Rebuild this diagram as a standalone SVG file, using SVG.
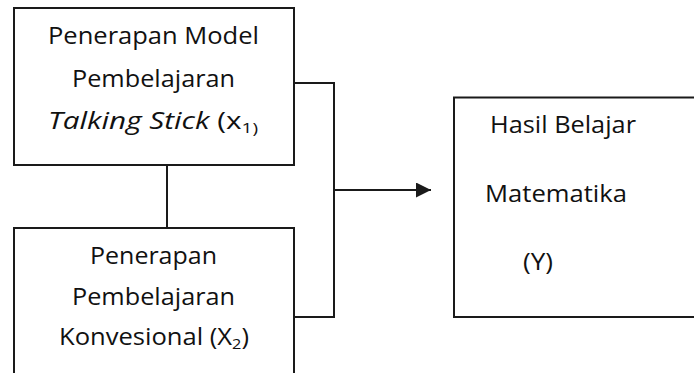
<svg xmlns="http://www.w3.org/2000/svg" width="694" height="373" viewBox="0 0 694 373">
  <style>
    .box { fill: #ffffff; stroke: #1a1a1a; stroke-width: 2; }
    .wire { fill: none; stroke: #1a1a1a; stroke-width: 2; }
    .lbl { font-family: "Open Sans", "Liberation Sans", sans-serif; font-size: 23.5px; fill: #111111; }
    .it { font-style: italic; }
    .sub { font-size: 15px; }
  </style>
  <defs>
    <marker id="arrowhead" markerWidth="15" markerHeight="15" viewBox="0 0 15 15" refX="15" refY="7.5" orient="auto" markerUnits="userSpaceOnUse">
      <path d="M0,0 L15,7.5 L0,15 Z" fill="#1a1a1a"/>
    </marker>
  </defs>

  <rect width="694" height="373" fill="#ffffff"/>

  <g id="connectors">
    <polyline class="wire" points="294,83 334,83 334,317 294,317"/>
    <line class="wire" x1="167" y1="165" x2="167" y2="228"/>
    <line class="wire" x1="334" y1="190" x2="431" y2="190" marker-end="url(#arrowhead)"/>
  </g>

  <g id="node-x1">
    <rect class="box" x="14" y="8" width="280" height="157"/>
    <text class="lbl" x="48" y="44" textLength="211" lengthAdjust="spacingAndGlyphs">Penerapan Model</text>
    <text class="lbl" x="72" y="87" textLength="163" lengthAdjust="spacingAndGlyphs">Pembelajaran</text>
    <text class="lbl" x="48" y="129" textLength="210" lengthAdjust="spacingAndGlyphs"><tspan class="it">Talking Stick</tspan> (x<tspan class="sub" dy="4">1)</tspan></text>
  </g>

  <g id="node-x2">
    <rect class="box" x="14" y="228" width="280" height="170"/>
    <text class="lbl" x="90" y="264" textLength="127" lengthAdjust="spacingAndGlyphs">Penerapan</text>
    <text class="lbl" x="72" y="305" textLength="163" lengthAdjust="spacingAndGlyphs">Pembelajaran</text>
    <text class="lbl" x="59" y="345" textLength="190" lengthAdjust="spacingAndGlyphs">Konvesional (X<tspan class="sub" dy="4">2</tspan><tspan dy="-4">)</tspan></text>
  </g>

  <g id="node-y">
    <rect class="box" x="454" y="97.5" width="260" height="219.5"/>
    <text class="lbl" x="490" y="133" textLength="146" lengthAdjust="spacingAndGlyphs">Hasil Belajar</text>
    <text class="lbl" x="485" y="202" textLength="142" lengthAdjust="spacingAndGlyphs">Matematika</text>
    <text class="lbl" x="523" y="270" textLength="30" lengthAdjust="spacingAndGlyphs">(Y)</text>
  </g>
</svg>
